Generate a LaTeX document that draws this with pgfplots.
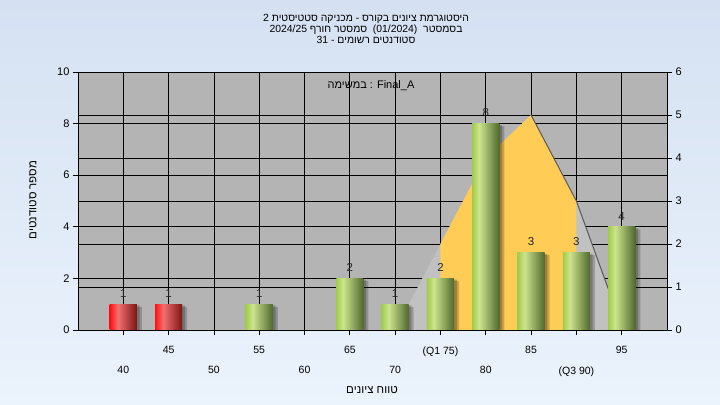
\documentclass[border=0pt]{standalone}
\usepackage{fontspec}
\setmainfont{Liberation Sans}
\newfontfamily\heb[Script=Hebrew]{Liberation Sans}
\TeXXeTstate=1
\usepackage{pgfplots}
\usepackage{pgfplotstable}
\pgfplotsset{compat=1.18}
\definecolor{bgtop}{RGB}{213,225,242}
\definecolor{bgbot}{RGB}{235,243,252}
\definecolor{plotgray}{RGB}{180,180,180}
\definecolor{normgray}{RGB}{193,193,193}
\definecolor{normyellow}{RGB}{255,204,85}
\definecolor{r1}{RGB}{255,16,16}
\definecolor{r2}{RGB}{242,112,112}
\definecolor{r3}{RGB}{122,20,20}
\definecolor{g1}{RGB}{160,204,72}
\definecolor{g2}{RGB}{204,228,142}
\definecolor{g3}{RGB}{80,104,44}
\pgfdeclarehorizontalshading{redbar}{100bp}{color(0bp)=(r1); color(25bp)=(r1); color(40bp)=(r2); color(75bp)=(r3); color(100bp)=(r3)}
\pgfdeclarehorizontalshading{greenbar}{100bp}{color(0bp)=(g1); color(25bp)=(g1); color(38bp)=(g2); color(75bp)=(g3); color(100bp)=(g3)}

\pgfplotstableread{
x y
40 1
45 1
55 1
65 2
70 1
75 2
80 8
85 3
90 3
95 4
}\allbars
% normal curve, right-axis units (0-6)
\pgfplotstableread{
x y
70 0
75 2
80 4
85 5
90 3
95 0.1
}\normcurve
\pgfplotstableread{
x y
75 2
80 4
85 5
90 3
}\normiqr
\pgfplotstableread{
x y
85 5
90 3
95 0.1
}\normedge

\newcommand{\fs}[1]{\fontsize{#1bp}{#1bp}\selectfont}
\pgfplotsset{
  redb/.style={ybar, bar width=3, draw=none, shade, shading=redbar},
  greenb/.style={ybar, bar width=3, draw=none, shade, shading=greenbar},
}

\begin{document}
\begin{tikzpicture}
\shade[top color=bgtop, bottom color=bgbot] (0,0) rectangle (720bp,405bp);
\begin{axis}[
  at={(78bp,75bp)}, anchor=south west,
  scale only axis, width=589bp, height=258bp,
  xmin=35, xmax=100, ymin=0, ymax=10,
  axis background/.style={fill=plotgray},
  axis line style={black, line width=0.9bp},
  xtick={45,55,65,75,85,95},
  xticklabels={45,55,65,(Q1 75),85,95},
  extra x ticks={40,50,60,70,80,90},
  extra x tick labels={40,50,60,70,80,(Q3 90)},
  extra x tick style={grid=major, xticklabel style={yshift=-20bp}},
  ytick={0,2,...,10},
  extra y ticks={1.666667,3.333333,5,6.666667,8.333333},
  extra y tick labels={},
  extra y tick style={grid=major, major tick length=0pt},
  grid=major,
  major grid style={black, line width=0.8bp},
  tick align=outside, major tick length=5bp,
  xtick pos=bottom, ytick pos=left,
  every tick/.style={black, line width=0.8bp},
  tick label style={font=\fs{11}, text=black},
  xticklabel style={font=\fs{10.5}, yshift=-8bp},
  /pgf/number format/assume math mode=true,
]
\addplot[fill=normgray, draw=none] table[x=x, y expr=\thisrow{y}*10/6] {\normcurve} \closedcycle;
\addplot[fill=normyellow, draw=none] table[x=x, y expr=\thisrow{y}*10/6] {\normiqr} \closedcycle;
\addplot[draw=black!65, line width=1bp, mark=none] table[x=x, y expr=\thisrow{y}*10/6] {\normedge};
% shadows
\addplot[ybar, bar width=3, bar shift=0.55, fill=black, fill opacity=0.2, draw=none] table[x=x, y expr=\thisrow{y}-0.1] {\allbars};
\addplot[ybar, bar width=3, bar shift=0.3, fill=black, fill opacity=0.22, draw=none] table[x=x, y expr=\thisrow{y}-0.05] {\allbars};
% bars (one plot per bar so that each bar gets its own shading)
\addplot[redb] coordinates {(40,1)};
\addplot[redb] coordinates {(45,1)};
\addplot[greenb] coordinates {(55,1)};
\addplot[greenb] coordinates {(65,2)};
\addplot[greenb] coordinates {(70,1)};
\addplot[greenb] coordinates {(75,2)};
\addplot[greenb] coordinates {(80,8)};
\addplot[greenb] coordinates {(85,3)};
\addplot[greenb] coordinates {(90,3)};
\addplot[greenb] coordinates {(95,4)};
% value labels
\addplot[draw=none, mark=none, nodes near coords,
  nodes near coords style={font=\fs{11.5}, text=black!85, anchor=south, inner sep=0pt, yshift=6.5bp}]
  table[x=x, y=y] {\allbars};
\end{axis}
\begin{axis}[
  at={(78bp,75bp)}, anchor=south west,
  scale only axis, width=589bp, height=258bp,
  xmin=35, xmax=100, ymin=0, ymax=6,
  axis x line=none, axis y line*=right,
  axis line style={black, line width=0.9bp},
  ytick={0,1,...,6},
  tick align=outside, major tick length=5bp,
  every tick/.style={black, line width=0.8bp},
  tick label style={font=\fs{11}, text=black},
  /pgf/number format/assume math mode=true,
]
\addplot[draw=none, mark=none] coordinates {(35,0)};
\end{axis}
% texts
\node[font=\heb\fs{10.4}, align=center, inner sep=0pt] at (366bp,376bp)
  {\beginR היסטוגרמת ציונים בקורס - מכניקה סטטיסטית 2\endR\\[0.5bp]
   \beginR בסמסטר\ \ \beginL(01/2024)\endL{}\ \ סמסטר חורף \beginL 2024/25\endL\endR\\[0.5bp]
   \beginR סטודנטים רשומים - 31\endR};
\node[font=\heb\fs{11}, inner sep=0pt] at (371bp,319bp) {במשימה : Final\_A};
\node[font=\heb\fs{11.5}, inner sep=0pt] at (372bp,15bp) {\beginR טווח ציונים\endR};
\node[font=\heb\fs{11.5}, inner sep=0pt, rotate=90] at (33bp,205bp) {\beginR מספר סטודנטים\endR};
\end{tikzpicture}
\end{document}
